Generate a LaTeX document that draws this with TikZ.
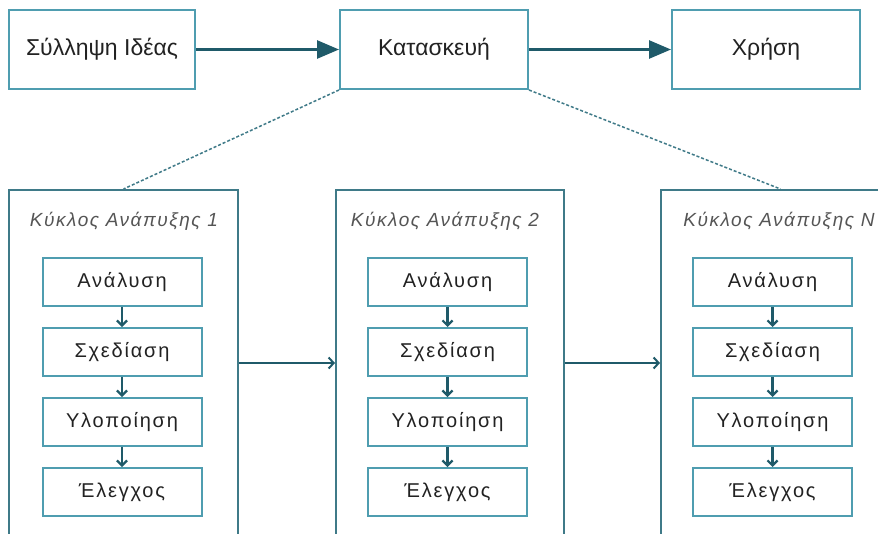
\documentclass[tikz,border=0pt]{standalone}
\usepackage{fontspec}
\setmainfont{Liberation Sans}
\newfontfamily\stagefont[LetterSpace=9]{Liberation Sans}
\newfontfamily\cyclefont[LetterSpace=8]{Liberation Sans}
\usetikzlibrary{arrows.meta}

\definecolor{boxline}{HTML}{4F9DB0}
\definecolor{frameline}{HTML}{3F7A88}
\definecolor{arrowline}{HTML}{1F5A69}
\definecolor{labelgrey}{HTML}{555555}
\definecolor{textdark}{HTML}{222222}

\tikzset{
  phase/.style={draw=boxline, line width=2pt, fill=white,
    minimum width=186pt, minimum height=79pt, inner sep=0pt,
    text=textdark, font=\fontsize{23}{27}\selectfont},
  cycleframe/.style={draw=frameline, line width=2pt,
    minimum width=229pt, minimum height=346pt, inner sep=0pt},
  cyclelabel/.style={text=labelgrey, inner sep=0pt,
    font=\cyclefont\itshape\fontsize{19}{22}\selectfont},
  stagebox/.style={draw=boxline, line width=2pt, fill=white,
    minimum width=159pt, minimum height=48pt, inner sep=0pt,
    text=textdark, font=\stagefont\fontsize{20}{24}\selectfont},
  mainflow/.style={draw=arrowline, line width=2.6pt,
    -{Triangle[length=22pt,width=18pt]}},
  stepflow/.style={draw=arrowline, line width=2.2pt,
    -{Straight Barb[length=5pt,width=10pt]}},
  cycleflow/.style={draw=arrowline, line width=2pt,
    -{Straight Barb[length=5pt,width=11pt]}},
  guide/.style={draw=frameline, line width=1.5pt, dash pattern=on 3pt off 2pt}
}

\begin{document}
\begin{tikzpicture}[x=1pt, y=-1pt]
  \useasboundingbox (0,0) rectangle (878,533);
  \clip (0,0) rectangle (878,533);
  \fill[white] (0,0) rectangle (878,533);

  % top-level process
  \node[phase] (idea) at (102,49.5) {Σύλληψη Ιδέας};
  \node[phase, minimum width=188pt] (build) at (434,49.5) {Κατασκευή};
  \node[phase, minimum width=188pt] (use) at (766,49.5) {Χρήση};
  \draw[mainflow] (idea) -- (build);
  \draw[mainflow] (build) -- (use);

  % development cycles (open at the bottom edge)
  \node[cycleframe] (c1) at (123.5,363) {};
  \node[cycleframe, minimum width=228pt] (c2) at (450,363) {};
  \node[cycleframe] (c3) at (775.5,363) {};

  \node[cyclelabel] (l1) at (124,221) {Κύκλος Ανάπυξης 1};
  \node[cyclelabel] (l2) at (445,221) {Κύκλος Ανάπυξης 2};
  \node[cyclelabel] (l3) at (779,221) {Κύκλος Ανάπυξης N};

  \draw[guide] (build.south west) -- (c1.north);
  \draw[guide] (build.south east) -- ([xshift=5pt]c3.north);

  \draw[cycleflow] (c1) -- (c2);
  \draw[cycleflow] (c2) -- (c3);

  % stages inside each cycle
  \foreach \c/\x in {1/122, 2/447.5, 3/772.5}{
    \node[stagebox] (a\c) at (\x,282) {Ανάλυση};
    \node[stagebox] (s\c) at (\x,352) {Σχεδίαση};
    \node[stagebox] (u\c) at (\x,422) {Υλοποίηση};
    \node[stagebox] (e\c) at (\x,492) {Έλεγχος};
    \draw[stepflow] (a\c) -- (s\c);
    \draw[stepflow] (s\c) -- (u\c);
    \draw[stepflow] (u\c) -- (e\c);
  }
\end{tikzpicture}
\end{document}
